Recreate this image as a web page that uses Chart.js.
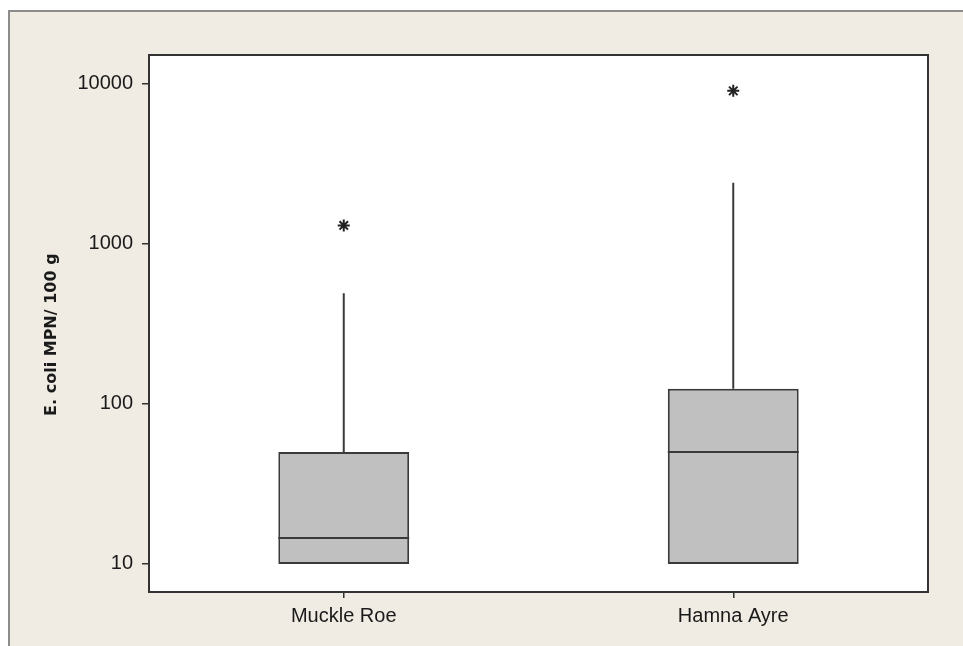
<!DOCTYPE html>
<html>
<head>
<meta charset="utf-8">
<script src="https://cdn.jsdelivr.net/npm/chart.js@4.4.1/dist/chart.umd.min.js"></script>
<style>
  body { margin: 0; background: #fff; }
  #frame {
    position: absolute; left: 8px; top: 10px; right: 0; bottom: 0;
    border-top: 2px solid #8c8c8c; border-left: 2px solid #8c8c8c;
    background: #f0ebe3;
  }
  #wrap { position: absolute; left: 0; top: 0; width: 953px; height: 634px; }
</style>
</head>
<body>
<div id="frame"><div id="wrap"><canvas id="boxChart"></canvas></div></div>
<script>
// box plot values (log axis)
var sites = ["Muckle Roe", "Hamna Ayre"];
var q1 = [10, 10];
var median = [14.5, 50];
var q3 = [50, 124];
var whiskerLow = [10, 10];
var whiskerHigh = [490, 2400];
var outliers = [1300, 9000];
var yTicks = [10, 100, 1000, 10000];

var boxLines = {
  id: 'boxLines',
  beforeDraw: function(chart){
    var a = chart.chartArea, ctx = chart.ctx;
    ctx.save();
    ctx.fillStyle = '#ffffff';
    ctx.fillRect(a.left, a.top, a.right - a.left, a.bottom - a.top);
    ctx.restore();
  },
  afterDatasetsDraw: function(chart){
    var ctx = chart.ctx;
    var y = chart.scales.y;
    var meta = chart.getDatasetMeta(0);
    ctx.save();
    ctx.strokeStyle = '#3a3a3a';
    ctx.lineWidth = 2;
    meta.data.forEach(function(bar, i){
      var half = bar.width / 2;
      ctx.beginPath();
      // whiskers
      ctx.moveTo(bar.x, y.getPixelForValue(q3[i]));
      ctx.lineTo(bar.x, y.getPixelForValue(whiskerHigh[i]));
      ctx.moveTo(bar.x, y.getPixelForValue(q1[i]));
      ctx.lineTo(bar.x, y.getPixelForValue(whiskerLow[i]));
      // median
      var ym = y.getPixelForValue(median[i]);
      ctx.moveTo(bar.x - half, ym);
      ctx.lineTo(bar.x + half, ym);
      ctx.stroke();
    });
    ctx.restore();
  },
  afterDraw: function(chart){
    var a = chart.chartArea, ctx = chart.ctx;
    ctx.save();
    ctx.strokeStyle = '#333';
    ctx.lineWidth = 2;
    ctx.strokeRect(a.left, a.top, a.right - a.left, a.bottom - a.top);
    ctx.restore();
  }
};

var tickFont = { family: "'Liberation Sans', Arial, sans-serif", size: 20 };

new Chart(document.getElementById('boxChart'), {
  type: 'bar',
  data: {
    labels: sites,
    datasets: [{
      label: 'box',
      data: sites.map(function(s, i){ return [q1[i], q3[i]]; }),
      backgroundColor: '#c0c0c0',
      borderColor: '#3a3a3a',
      borderWidth: 2,
      borderSkipped: false,
      categoryPercentage: 1,
      barPercentage: 0.336
    }, {
      type: 'line',
      label: 'outliers',
      data: outliers,
      showLine: false,
      pointStyle: 'star',
      pointRadius: 6,
      borderColor: '#222',
      backgroundColor: '#222',
      borderWidth: 2
    }]
  },
  options: {
    responsive: true,
    maintainAspectRatio: false,
    animation: false,
    layout: { padding: { left: 0, top: 43, right: 35, bottom: 12 } },
    plugins: { legend: { display: false }, tooltip: { enabled: false } },
    scales: {
      x: {
        grid: { drawOnChartArea: false, offset: false, tickLength: 6, color: '#333', lineWidth: 1.5 },
        border: { display: false },
        ticks: { color: '#1a1a1a', font: tickFont, padding: 6 },
        afterFit: function(scale){ scale.height = 42; }
      },
      y: {
        type: 'logarithmic',
        min: 6.68,
        max: 15070,
        grid: { drawOnChartArea: false, tickLength: 7, color: '#333', lineWidth: 1.5 },
        border: { display: false },
        afterBuildTicks: function(scale){
          scale.ticks = yTicks.map(function(v){ return { value: v }; });
        },
        ticks: {
          color: '#1a1a1a', font: tickFont, padding: 9,
          callback: function(v){ return String(v); }
        },
        title: {
          display: true,
          text: 'E. coli MPN/ 100 g    ',
          color: '#1a1a1a',
          font: { family: "'DejaVu Sans', Verdana, sans-serif", size: 16, weight: 'bold' },
          padding: { top: 32, bottom: 0 }
        },
        afterFit: function(scale){ scale.width = 139; }
      }
    }
  },
  plugins: [boxLines]
});
</script>
</body>
</html>
